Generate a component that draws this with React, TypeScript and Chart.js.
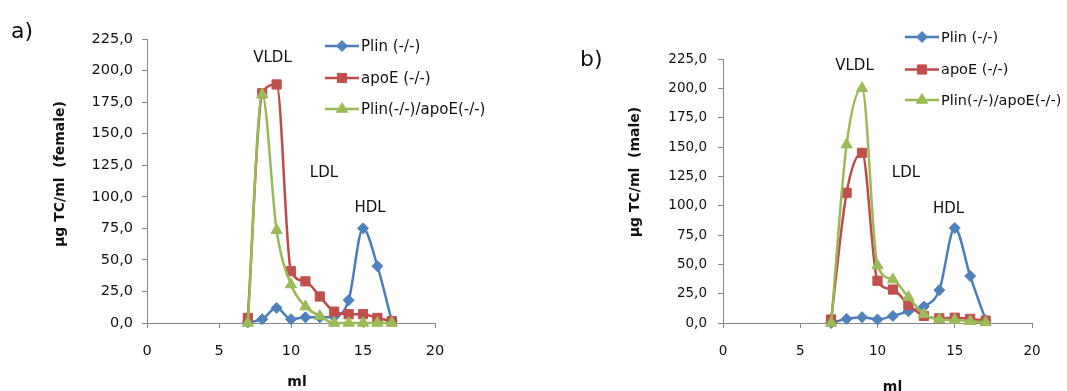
import React, { useEffect, useRef } from 'react';
import { Chart, registerables } from 'chart.js';

Chart.register(...registerables);

// Fraction volume (ml) of each collected FPLC fraction
const fractionsMl = [7, 8, 9, 10, 11, 12, 13, 14, 15, 16, 17];
const seriesNames = ['Plin (-/-)', 'apoE (-/-)', 'Plin(-/-)/apoE(-/-)'];
const xTickValues = [0, 5, 10, 15, 20];
const yTickMax = 225;

// Female: total cholesterol (µg TC/ml) per fraction
const femalePlin = [0.5, 3, 12, 3, 4.5, 4.5, 5, 18, 75, 45, 1.5];
const femaleApoE = [4, 182, 189, 41, 33, 21, 9, 7, 7, 4, 1.5];
const femaleDouble = [0, 181, 73.5, 30.5, 13, 5.5, 0, 0, 0, 0, 0];

// Male: total cholesterol (µg TC/ml) per fraction
const malePlin = [0, 3.5, 5, 3, 6, 10, 14, 28, 81, 40, 2.5];
const maleApoE = [3, 111, 145, 36, 28.5, 15.5, 6, 4, 4.5, 3.5, 2];
const maleDouble = [0, 152, 200, 49, 37, 22, 7.5, 3, 2.5, 1.5, 0.5];

const FONT = '"DejaVu Sans", "Liberation Sans", Arial, sans-serif';
const AXIS_GRAY = '#868686';
const TEXT = '#111111';

const STYLES = [
  { line: '#4A7EBB', mark: '#4F81BD', point: 'rectRot', r: 5.5 },
  { line: '#BE4B48', mark: '#C0504D', point: 'rect', r: 6.5 },
  { line: '#98B954', mark: '#9BBB59', point: 'triangle', r: 6.5 },
];

type TextItem = {
  text: string;
  x: number;
  y: number;
  font: string;
  align?: CanvasTextAlign;
  baseline?: CanvasTextBaseline;
  rotate?: boolean;
};

type PanelLayout = {
  canvasLeft: number;
  canvasWidth: number;
  area: { left: number; right: number; top: number; bottom: number };
  tickSize: number;
  yTickPadding: number;
  texts: TextItem[];
  legend: { x1: number; x2: number; textX: number; rows: number[]; font: string };
};

const CANVAS_H = 391;

function drawMarker(ctx: CanvasRenderingContext2D, style: string, x: number, y: number, r: number, color: string) {
  ctx.beginPath();
  if (style === 'rectRot') {
    ctx.moveTo(x, y - r);
    ctx.lineTo(x + r, y);
    ctx.lineTo(x, y + r);
    ctx.lineTo(x - r, y);
  } else if (style === 'rect') {
    const s = r * Math.SQRT1_2;
    ctx.rect(x - s, y - s, 2 * s, 2 * s);
  } else {
    for (let k = 0; k < 3; k++) {
      const a = (k * 2 * Math.PI) / 3;
      const px = x + Math.sin(a) * r;
      const py = y - Math.cos(a) * r;
      if (k === 0) ctx.moveTo(px, py);
      else ctx.lineTo(px, py);
    }
  }
  ctx.closePath();
  ctx.fillStyle = color;
  ctx.fill();
  ctx.lineWidth = 1;
  ctx.strokeStyle = color;
  ctx.stroke();
}

// Draws the panel letter, axis titles, lipoprotein labels and the in-plot legend
function makeDecorPlugin(layout: PanelLayout) {
  return {
    id: 'panelDecor',
    afterDraw(chart: Chart) {
      const ctx = chart.ctx;
      ctx.save();
      ctx.fillStyle = TEXT;
      for (const t of layout.texts) {
        ctx.save();
        ctx.font = t.font;
        ctx.textAlign = t.align ?? 'center';
        ctx.textBaseline = t.baseline ?? 'alphabetic';
        ctx.translate(t.x, t.y);
        if (t.rotate) ctx.rotate(-Math.PI / 2);
        ctx.fillText(t.text, 0, 0);
        ctx.restore();
      }
      const lg = layout.legend;
      chart.data.datasets.forEach((ds: any, i: number) => {
        const y = lg.rows[i];
        const st = STYLES[i];
        ctx.beginPath();
        ctx.moveTo(lg.x1, y);
        ctx.lineTo(lg.x2, y);
        ctx.strokeStyle = st.line;
        ctx.lineWidth = 2.5;
        ctx.stroke();
        drawMarker(ctx, st.point, (lg.x1 + lg.x2) / 2, y, st.r, st.mark);
        ctx.font = lg.font;
        ctx.fillStyle = TEXT;
        ctx.textAlign = 'left';
        ctx.textBaseline = 'middle';
        ctx.fillText(ds.label, lg.textX, y + 1);
      });
      ctx.restore();
    },
  };
}

function makeDatasets(values: number[][]) {
  return values.map((vals, i) => ({
    label: seriesNames[i],
    data: fractionsMl.map((x, j) => ({ x, y: vals[j] })),
    borderColor: STYLES[i].line,
    backgroundColor: STYLES[i].mark,
    borderWidth: 2.5,
    pointStyle: STYLES[i].point,
    pointRadius: STYLES[i].r,
    pointHoverRadius: STYLES[i].r,
    pointBackgroundColor: STYLES[i].mark,
    pointBorderColor: STYLES[i].mark,
    pointBorderWidth: 1,
    cubicInterpolationMode: 'monotone',
    tension: 0.4,
    order: 3 - i,
    clip: { left: 10, right: 10, top: 10, bottom: 8 },
  }));
}

function makeChart(canvas: HTMLCanvasElement, values: number[][], layout: PanelLayout) {
  const { area } = layout;
  const tickFont = { family: FONT, size: layout.tickSize };
  return new Chart(canvas, {
    type: 'line',
    data: { datasets: makeDatasets(values) as any },
    options: {
      responsive: false,
      animation: false,
      events: [],
      layout: {
        padding: { left: 0, top: area.top, right: layout.canvasWidth - area.right, bottom: 0 },
      },
      plugins: { legend: { display: false }, tooltip: { enabled: false }, title: { display: false } },
      scales: {
        x: {
          type: 'linear',
          min: xTickValues[0],
          max: xTickValues[xTickValues.length - 1],
          afterFit: (s: any) => {
            s.height = CANVAS_H - area.bottom;
          },
          afterBuildTicks: (s: any) => {
            s.ticks = xTickValues.map((v) => ({ value: v }));
          },
          ticks: { color: TEXT, font: tickFont, padding: 15, maxRotation: 0, autoSkip: false },
          grid: { drawOnChartArea: false, drawTicks: true, tickLength: 5, color: AXIS_GRAY, lineWidth: 1 },
          border: { display: true, color: AXIS_GRAY, width: 1 },
        },
        y: {
          type: 'linear',
          min: 0,
          max: yTickMax,
          afterFit: (s: any) => {
            s.width = area.left;
          },
          ticks: {
            stepSize: 25,
            color: TEXT,
            font: tickFont,
            padding: layout.yTickPadding,
            callback: (v: any) => Number(v).toFixed(1).replace('.', ','),
          },
          grid: { drawOnChartArea: false, drawTicks: true, tickLength: 5, color: AXIS_GRAY, lineWidth: 1 },
          border: { display: true, color: AXIS_GRAY, width: 1 },
        },
      },
    } as any,
    plugins: [makeDecorPlugin(layout)],
  });
}

const femaleLayout: PanelLayout = {
  canvasLeft: 0,
  canvasWidth: 560,
  area: { left: 147, right: 435, top: 39, bottom: 323 },
  tickSize: 14.5,
  yTickPadding: 9,
  texts: [
    { text: 'a)', x: 11, y: 38, font: `22px ${FONT}`, align: 'left' },
    { text: 'µg TC/ml  (female)', x: 60, y: 174, font: `bold 14px ${FONT}`, baseline: 'middle', rotate: true },
    { text: 'ml', x: 297, y: 386, font: `bold 14px ${FONT}` },
    { text: 'VLDL', x: 272.5, y: 61.7, font: `15px ${FONT}` },
    { text: 'LDL', x: 324, y: 176.7, font: `15px ${FONT}` },
    { text: 'HDL', x: 370, y: 211.7, font: `15px ${FONT}` },
  ],
  legend: { x1: 325, x2: 359, textX: 361, rows: [46, 78, 109], font: `15px ${FONT}` },
};

const maleLayout: PanelLayout = {
  canvasLeft: 560,
  canvasWidth: 507,
  area: { left: 163, right: 472, top: 59, bottom: 323 },
  tickSize: 13.5,
  yTickPadding: 11,
  texts: [
    { text: 'b)', x: 20, y: 66, font: `22px ${FONT}`, align: 'left' },
    { text: 'µg TC/ml  (male)', x: 75, y: 172, font: `bold 14px ${FONT}`, baseline: 'middle', rotate: true },
    { text: 'ml', x: 332.5, y: 390.5, font: `bold 14px ${FONT}` },
    { text: 'VLDL', x: 294.5, y: 70, font: `15px ${FONT}` },
    { text: 'LDL', x: 346, y: 176.7, font: `15px ${FONT}` },
    { text: 'HDL', x: 388.5, y: 213.3, font: `15px ${FONT}` },
  ],
  legend: { x1: 345, x2: 379, textX: 381, rows: [37, 69.5, 100], font: `14.5px ${FONT}` },
};

export default function App() {
  const femaleRef = useRef<HTMLCanvasElement | null>(null);
  const maleRef = useRef<HTMLCanvasElement | null>(null);

  useEffect(() => {
    const charts: Chart[] = [];
    if (femaleRef.current) {
      charts.push(makeChart(femaleRef.current, [femalePlin, femaleApoE, femaleDouble], femaleLayout));
    }
    if (maleRef.current) {
      charts.push(makeChart(maleRef.current, [malePlin, maleApoE, maleDouble], maleLayout));
    }
    return () => charts.forEach((c) => c.destroy());
  }, []);

  return (
    <div
      style={{
        position: 'fixed',
        left: 0,
        top: 0,
        width: 1067,
        height: 391,
        background: '#ffffff',
        overflow: 'hidden',
      }}
    >
      <canvas
        ref={femaleRef}
        width={femaleLayout.canvasWidth}
        height={CANVAS_H}
        style={{ position: 'absolute', left: femaleLayout.canvasLeft, top: 0, width: femaleLayout.canvasWidth, height: CANVAS_H }}
      />
      <canvas
        ref={maleRef}
        width={maleLayout.canvasWidth}
        height={CANVAS_H}
        style={{ position: 'absolute', left: maleLayout.canvasLeft, top: 0, width: maleLayout.canvasWidth, height: CANVAS_H }}
      />
    </div>
  );
}
